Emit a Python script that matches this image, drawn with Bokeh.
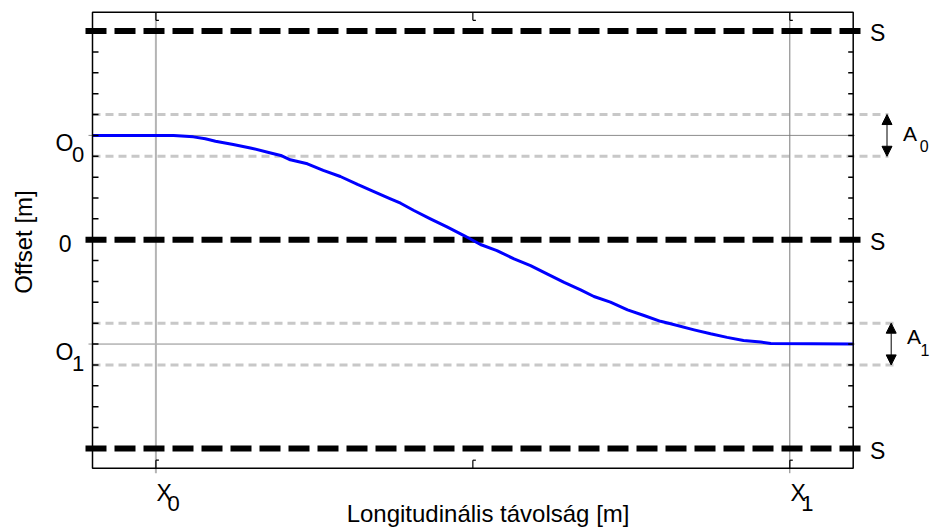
import math
from bokeh.plotting import figure
from bokeh.models import Range1d, ColumnDataSource, Arrow, NormalHead
from bokeh.core.properties import value
from bokeh.embed import file_html
from bokeh.resources import INLINE

# ---------------- data ----------------
curve_x = [-0.1, 0.028, 0.059, 0.078, 0.094, 0.122, 0.149, 0.181, 0.197, 0.212,
           0.239, 0.264, 0.291, 0.318, 0.343, 0.370, 0.386, 0.407, 0.433, 0.460,
           0.486, 0.512, 0.538, 0.565, 0.591, 0.617, 0.644, 0.670, 0.691, 0.717,
           0.744, 0.770, 0.796, 0.812, 0.849, 0.875, 0.901, 0.927, 0.954, 0.970, 1.1]
curve_y = [5.0, 5.0, 4.93, 4.84, 4.72, 4.56, 4.40, 4.16, 4.04, 3.83,
           3.64, 3.32, 3.03, 2.65, 2.32, 1.96, 1.75, 1.40, 1.00, 0.60,
           0.20, -0.23, -0.52, -0.92, -1.24, -1.64, -2.04, -2.40, -2.72, -2.99,
           -3.36, -3.63, -3.91, -4.03, -4.32, -4.51, -4.68, -4.83, -4.90, -4.97, -5.0]

s_levels = [10, 0, -10]
s_labels = ["S", "S", "S"]
offset_levels = [5, -5]
offset_names = ["O", "O"]
offset_subs = ["0", "1"]
zero_label = "0"
band_half = [1, 1]
band_names = ["A", "A"]
band_subs = ["0", "1"]
x_marks = [0, 1]
x_mark_names = ["X", "X"]
x_mark_subs = ["0", "1"]
x_ticks = [0, 0.5, 1]
y_ticks = list(range(-10, 11))
x_title = "Longitudinális távolság [m]"
y_title = "Offset [m]"

# ---------------- layout ----------------
FONT = "Liberation Sans"
W, H = 935, 528
BOX_X = (-0.1, 1.1)
BOX_Y = (-10.95, 10.9)
BOX_PX = (92.0, 852.7)     # canvas pixels of box left/right
BOX_PY = (11.8, 467.7)     # canvas pixels of box top/bottom
sx = (BOX_X[1] - BOX_X[0]) / (BOX_PX[1] - BOX_PX[0])
sy = (BOX_Y[1] - BOX_Y[0]) / (BOX_PY[1] - BOX_PY[0])
BASE_FIX = 0.34            # em; renderer places "alphabetic" text this much low


def px(n):
    return n * sx


def py(n):  # positive = up
    return n * sy


def ty(anchor, down_px, fs):
    """y of a text whose baseline should sit down_px below anchor."""
    return anchor - py(down_px - BASE_FIX * fs)


xr = Range1d(BOX_X[0] - BOX_PX[0] * sx, BOX_X[1] + (W - BOX_PX[1]) * sx)
yr = Range1d(BOX_Y[0] - (H - BOX_PY[1]) * sy, BOX_Y[1] + BOX_PY[0] * sy)

p = figure(width=W, height=H, x_range=xr, y_range=yr, output_backend="svg",
           toolbar_location=None, x_axis_type=None, y_axis_type=None,
           min_border=0)
p.outline_line_color = None
p.background_fill_color = "white"
p.border_fill_color = "white"

L, R = BOX_X
B, T = BOX_Y

# amplitude bands (light grey dashed)
band_arrow_dx = [33.8, 38.0]
band_ext = [35.3, 40.3]
for i, (o, a) in enumerate(zip(offset_levels, band_half)):
    p.segment(x0=[L, L], x1=[R + px(band_ext[i])] * 2, y0=[o + a, o - a], y1=[o + a, o - a],
              line_color="#c8c8c8", line_width=3, line_dash="8 5")

# offset reference lines
p.segment(x0=[L - px(4)] * 2, x1=[R + px(1.5)] * 2, y0=offset_levels, y1=offset_levels,
          line_color="#8c8c8c", line_width=1)

# vertical reference lines at X0, X1
p.segment(x0=x_marks, x1=x_marks, y0=[T, T], y1=[B - py(5)] * 2,
          line_color=["#b4b4b4", "#7a7a7a"], line_width=[2, 1])

# S lines (thick dashed)
p.segment(x0=[L - px(7)] * 3, x1=[R + px(9)] * 3, y0=s_levels, y1=s_levels,
          line_color="black", line_width=6, line_dash="21 8")

# trajectory
p.line(curve_x, curve_y, line_color="#0000ff", line_width=3, line_join="round")

# box
p.quad(left=[L], right=[R], bottom=[B], top=[T], fill_color=None,
       line_color="black", line_width=1.5)

# ticks
n = len(y_ticks)
p.segment(x0=[L] * n, x1=[L + px(6)] * n, y0=y_ticks, y1=y_ticks, line_color="black", line_width=1.5)
p.segment(x0=[R] * n, x1=[R - px(5)] * n, y0=y_ticks, y1=y_ticks, line_color="black", line_width=1.5)
m = len(x_ticks)
p.segment(x0=x_ticks, x1=x_ticks, y0=[T] * m, y1=[T - py(8)] * m, line_color="black", line_width=1.2)
p.segment(x0=x_ticks, x1=[x + px(3) for x in x_ticks], y0=[T - py(8)] * m, y1=[T - py(8)] * m,
          line_color="black", line_width=1.2)
p.segment(x0=x_ticks, x1=x_ticks, y0=[B] * m, y1=[B + py(8)] * m, line_color="black", line_width=1.2)
p.segment(x0=x_ticks, x1=[x + px(3) for x in x_ticks], y0=[B + py(8)] * m, y1=[B + py(8)] * m,
          line_color="black", line_width=1.2)

# arrows for A0 / A1
asrc = ColumnDataSource(data=dict(
    x=[R + px(band_arrow_dx[i]) for i in range(len(offset_levels))],
    y0=[o - a for o, a in zip(offset_levels, band_half)],
    y1=[o + a for o, a in zip(offset_levels, band_half)],
))
p.add_layout(Arrow(start=NormalHead(size=10, fill_color="black", line_color="black", line_width=1),
                   end=NormalHead(size=10, fill_color="black", line_color="black", line_width=1),
                   x_start="x", y_start="y0", x_end="x", y_end="y1", source=asrc,
                   line_color="black", line_width=1))

txt = dict(text_font=value(FONT), text_color="black", text_baseline="alphabetic")

# S labels
p.text(x=[R + px(16.8)] * 3, y=[ty(s, 10, 23) for s in s_levels], text=s_labels,
       text_font_size="23px", text_align="left", **txt)

# A labels
a_dx = [49.8, 53.8]
a_dy = [5.1, -0.2]
a_sub_dx = [66.6, 67.3]
a_sub_dy = [15.8, 11.5]
p.text(x=[R + px(d) for d in a_dx], y=[ty(o, d, 21) for o, d in zip(offset_levels, a_dy)],
       text=band_names, text_font_size="21px", text_align="left", **txt)
p.text(x=[R + px(d) for d in a_sub_dx], y=[ty(o, d, 16) for o, d in zip(offset_levels, a_sub_dy)],
       text=band_subs, text_font_size="16px", text_align="left", **txt)

# y tick labels
p.text(x=[L - px(37)] * 2, y=[ty(o, 15.5, 23) for o in offset_levels], text=offset_names,
       text_font_size="23px", text_align="left", **txt)
p.text(x=[L - px(20.5)] * 2, y=[ty(o, 27, 22) for o in offset_levels], text=offset_subs,
       text_font_size="22px", text_align="left", **txt)
p.text(x=[L - px(33.8)], y=[ty(0, 11.5, 23)], text=[zero_label],
       text_font_size="23px", text_align="left", **txt)

# x tick labels
p.text(x=[x + px(0.6) for x in x_marks], y=[ty(B, 32.3, 23)] * 2, text=x_mark_names,
       text_font_size="23px", text_align="left", **txt)
p.text(x=[x + px(11.5) for x in x_marks], y=[ty(B, 42.7, 22)] * 2, text=x_mark_subs,
       text_font_size="22px", text_align="left", **txt)

# axis titles
p.text(x=[0.5 + px(15.2)], y=[ty(B, 53.8, 24)], text=[x_title],
       text_font_size="24px", text_align="center", **txt)
p.text(x=[L - px(61.2 + BASE_FIX * 24)], y=[0 - py(2.3)], text=[y_title], angle=math.pi / 2,
       text_font_size="24px", text_align="center", **txt)

open("out.html", "w").write(file_html(p, INLINE))
